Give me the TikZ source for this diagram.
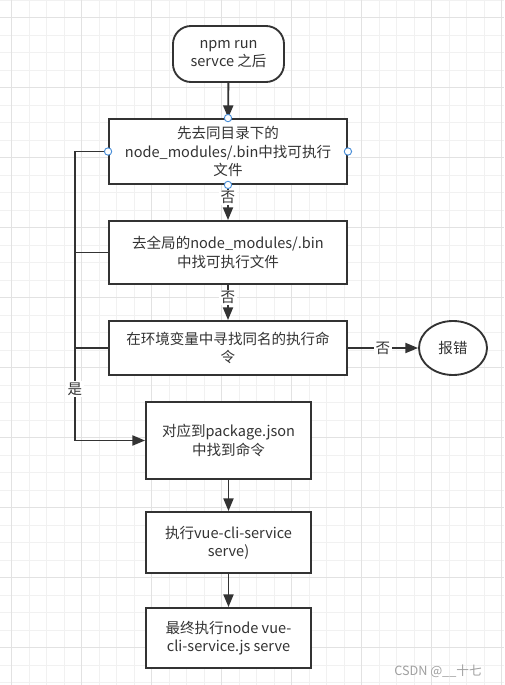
\documentclass[tikz,border=0pt]{standalone}
\usepackage{fontspec}
\setmainfont{Noto Sans CJK SC}
\usetikzlibrary{arrows.meta,shapes.geometric}

\definecolor{lineclr}{RGB}{51,51,51}
\definecolor{gridminor}{RGB}{241,241,241}
\definecolor{gridmajor}{RGB}{226,226,226}
\definecolor{portclr}{RGB}{70,140,215}
\definecolor{markclr}{RGB}{160,160,160}

\begin{document}
\begin{tikzpicture}[x=0.75pt,y=0.75pt,yscale=-1,xscale=1,
  every node/.style={text=lineclr, font=\fontsize{10.9}{13.7}\selectfont},
  box/.style={draw=lineclr, line width=1.4pt, fill=white, align=center, inner sep=0pt},
  flow/.style={draw=lineclr, line width=1.4pt, -{Triangle[length=9.5pt,width=7.5pt]}},
  plain/.style={draw=lineclr, line width=1.4pt},
  lbl/.style={fill=white, inner sep=1pt},
  port/.style={circle, draw=portclr, fill=white, line width=0.7pt, minimum size=5.5pt, inner sep=0pt}]
%set diagram left start at 0, and has height of 685
\useasboundingbox (0,0) rectangle (504,685);
\fill[white] (0,0) rectangle (504,685);

%Grid
\foreach \gx in {11.7,29.2,...,504} \draw[gridminor, line width=0.75pt] (\gx,0) -- (\gx,685);
\foreach \gy in {0.2,17.7,...,685} \draw[gridminor, line width=0.75pt] (0,\gy) -- (504,\gy);
\foreach \gx in {11.7,81.7,...,504} \draw[gridmajor, line width=0.75pt] (\gx,0) -- (\gx,685);
\foreach \gy in {17.7,87.7,...,685} \draw[gridmajor, line width=0.75pt] (0,\gy) -- (504,\gy);

%Shape: Rounded Rect
\node[box, rounded corners=13.5pt, minimum width=83.25pt, minimum height=42pt] (start) at (228.5,54) {npm run\\servce 之后};
%Shape: Rectangle
\node[box, minimum width=178.5pt, minimum height=48.75pt] (find1) at (228,151.5) {先去同目录下的\\node\_modules/.bin中找可执行\\文件};
%Shape: Rectangle
\node[box, minimum width=178.5pt, minimum height=47.25pt] (find2) at (228,252.5) {去全局的node\_modules/.bin\\中找可执行文件};
%Shape: Rectangle
\node[box, minimum width=178.5pt, minimum height=40.5pt] (find3) at (228,348) {在环境变量中寻找同名的执行命\\令};
%Shape: Ellipse
\node[box, ellipse, minimum width=51pt, minimum height=40.5pt] (err) at (453,348) {报错};
%Shape: Rectangle
\node[box, minimum width=123.75pt, minimum height=57.75pt] (pkg) at (228.5,440.5) {对应到package.json\\中找到命令};
%Shape: Rectangle
\node[box, minimum width=123.75pt, minimum height=45.75pt] (exec) at (228.5,542.5) {执行vue-cli-service\\serve)};
%Shape: Rectangle
\node[box, minimum width=123.75pt, minimum height=45pt] (final) at (228.5,638) {最终执行node vue-\\cli-service.js serve};

%Straight Lines
\draw[flow] (start) -- (find1);
\draw[flow] (find1) -- node[lbl, pos=0.35] (no1) {否} (find2);
\draw[flow] (find2) -- node[lbl, pos=0.35] (no2) {否} (find3);
\draw[flow] (find3) -- node[lbl] (no3) {否} (err);
\draw[flow] (pkg) -- (exec);
\draw[flow] (exec) -- (final);

%Left bus
\coordinate (bend) at (75,440.5);
\draw[flow] (find1.west) -| (bend) -- (pkg.west);
\draw[plain] (find2.west) -- (find2.west -| bend);
\draw[plain] (find3.west) -- (find3.west -| bend);
\node[lbl] (yes) at (75,389) {是};

%Ports
\node[port] (pt) at (find1.north) {};
\node[port] (pw) at (find1.west) {};
\node[port] (pe) at (find1.east) {};
\node[port] (ps) at (find1.south) {};

% Text Node
\node[text=markclr, font=\fontsize{9.5}{11}\selectfont] (mark) at (438,671) {CSDN @\_\_十七};
\end{tikzpicture}
\end{document}
